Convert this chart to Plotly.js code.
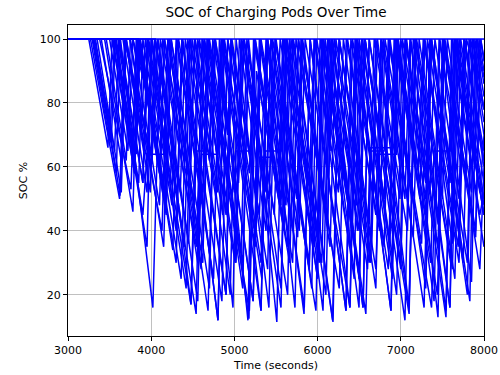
<!DOCTYPE html>
<html>
<head>
<meta charset="utf-8">
<script src="https://cdn.plot.ly/plotly-3.0.1.min.js"></script>
<style>html,body{margin:0;padding:0;background:#fff;}#chart{width:500px;height:375px;}</style>
</head>
<body>
<div id="chart"></div>
<script>
// Time (seconds) and SOC (%) vertices for each charging pod
const pod01Time = [3000,3270,3620,3680,4010,4080,4560,4640,5100,5170,5640,5700,6180,6260,6700,6790,7280,7350,7800,7860,8000];
const pod01Soc  = [100,100,50,100,62,100,18,100,30,95,20,100,12,100,28,100,16,100,30,100,78];
const pod02Time = [3000,3300,3580,3630,4020,4110,4543,4620,5180,5265,5665,5740,6260,6345,6745,6810,7370,7460,7727,7790,8000];
const pod02Soc  = [100,100,58,100,16,100,35,100,15,90,30,100,22,100,40,100,16,100,60,100,78];
const pod03Time = [3000,3320,3560,3610,3900,3960,4420,4490,4800,4860,5320,5400,5780,5850,6389,6470,6900,6960,7440,7530,7900,7960,8000];
const pod03Soc  = [100,100,65,100,55,100,22,100,52,100,15,100,40,100,16,100,32,100,20,100,38,100,94];
const pod04Time = [3000,3350,3640,3700,4130,4200,4683,4770,5225,5300,5596,5660,6065,6140,6546,6620,7099,7180,7591,7660,8000];
const pod04Soc  = [100,100,52,100,40,100,15,100,18,85,40,100,15,100,16,100,16,100,16,100,45];
const pod05Time = [3000,3380,3757,3820,4030,4080,4478,4560,5010,5080,5415,5490,5930,5990,6385,6450,6882,6960,7207,7280,7690,7760,8000];
const pod05Soc  = [100,100,53,100,70,100,17,100,30,100,50,100,22,100,35,100,15,100,60,100,35,100,65];
const pod06Time = [3000,3330,3625,3690,3950,4000,4300,4370,4803,4880,5330,5400,5837,5910,6341,6420,6850,6920,7207,7270,7700,7770,8000];
const pod06Soc  = [100,100,51,100,62,100,40,100,12,100,25,100,14,100,15,100,28,100,55,100,30,100,62];
const pod07Time = [3000,3460,3700,3750,4150,4220,4620,4690,5175,5250,5520,5590,6000,6070,6498,6570,7000,7060,7543,7620,7950,8000];
const pod07Soc  = [100,100,62,100,35,100,30,100,12.5,100,55,100,25,100,16,100,30,100,13,100,45,52];
const pod08Time = [3000,3500,3720,3780,4080,4140,4560,4640,4983,5020,5200,5250,5560,5620,6100,6170,6600,6640,6800,6850,7250,7320,7591,7660,7950,8000];
const pod08Soc  = [100,100,65,100,70,100,30,100,16,65,65,100,50,100,20,100,28,65,65,100,36,100,55,100,52,70];
const pod09Time = [3000,3540,3800,3850,4300,4370,4850,4920,5320,5390,5728,5800,6200,6260,6700,6770,7150,7220,7650,7720,8000];
const pod09Soc  = [100,100,58,100,30,100,18,100,30,100,16,100,30,100,22,100,38,100,25,100,55];
const pod10Time = [3000,3580,3850,3900,4360,4440,4900,4960,5300,5380,5840,5910,6341,6400,6800,6870,7300,7370,7830,7890,8000];
const pod10Soc  = [100,100,55,100,25,100,20,100,45,100,16,100,15,100,35,100,22,100,18,100,82];
const pod11Time = [3000,3620,3900,3950,4230,4300,4750,4820,5163,5230,5640,5710,6185,6260,6650,6720,7099,7170,7620,7700,8000];
const pod11Soc  = [100,100,55,100,55,100,25,100,12,100,35,100,11.5,100,35,100,16,100,28,100,50];
const pod12Time = [3000,3660,3950,4000,4400,4470,4700,4760,5225,5300,5700,5770,6065,6130,6546,6620,7000,7070,7447,7520,7900,7960,8000];
const pod12Soc  = [100,100,52,100,35,100,62,100,18,100,30,100,50,100,16,100,38,100,13,100,40,100,93];
const pod13Time = [3000,3700,3920,3970,4478,4540,4700,4740,4920,4960,5320,5370,5560,5600,6020,6090,6580,6630,6900,6940,7360,7400,7600,7640,7890,7940,8000];
const pod13Soc  = [100,100,65,100,17,65,65,100,70,100,15,65,65,100,30,100,14,66,66,100,30,65,65,100,60,100,90];
const pod14Time = [3000,3740,4000,4050,4450,4520,4950,5020,5415,5490,5900,5970,6389,6460,6882,6950,7300,7370,7800,7870,8000];
const pod14Soc  = [100,100,60,100,36,100,20,100,16,100,28,100,16,100,15,100,45,100,20,100,78];
const pod15Time = [3000,3780,4100,4160,4600,4670,5100,5170,5510,5580,5960,6030,6440,6500,6950,7020,7300,7360,7750,7820,8000];
const pod15Soc  = [100,100,48,100,28,100,22,100,11.5,100,35,100,25,100,20,100,55,100,30,100,70];
const pod16Time = [3000,3850,4180,4240,4700,4770,5050,5120,5560,5630,6050,6120,6500,6570,7000,7060,7447,7510,7950,8000];
const pod16Soc  = [100,100,45,100,22,100,55,100,22,100,30,100,40,100,28,100,35,100,28,60];
const pod17Time = [3000,3250,3480,3530,3800,3860,4260,4330,4620,4680,5080,5150,5480,5550,5990,6060,6420,6480,6900,6970,7400,7470,7850,7920,8000];
const pod17Soc  = [100,100,66,100,58,100,34,100,52,100,33,100,45,100,27,100,42,100,25,100,18,100,24,100,88];
const pod18Time = [3000,3290,3500,3560,3900,3950,4150,4200,4560,4610,4800,4850,5250,5300,5450,5500,5900,5960,6150,6200,6620,6680,6950,7000,7300,7350,7700,7760,8000];
const pod18Soc  = [100,100,68,100,45,64,64,100,40,64,64,100,35,63,63,100,30,100,65,100,30,64,64,100,50,100,40,100,62];
const pod19Time = [3000,3560,3950,4010,4540,4610,5020,5090,5560,5630,6000,6070,6500,6570,7050,7120,7543,7610,8000];
const pod19Soc  = [100,100,35,100,14,100,30,100,16,100,40,100,25,100,12,100,15,100,35];
const pod20Time = [3000,3400,3640,3690,3990,4040,4320,4380,4803,4870,5260,5320,5700,5770,6150,6220,6640,6700,7080,7150,7591,7650,8000];
const pod20Soc  = [100,100,62,100,52,100,55,100,12,100,38,100,40,100,35,100,30,100,40,100,16,100,45];
const pod21Time = [3000,8000];
const pod21Soc  = [100,100];
const pod22Time = [3000,3310,3520,3570,3780,3830,4100,4160,4400,4460,4780,4840,5050,5110,5380,5440,5750,5810,6100,6160,6470,6530,6800,6860,7130,7190,7500,7560,7850,7910,8000];
const pod22Soc  = [100,100,68,100,66,100,58,100,62,100,50,100,62,100,52,100,50,100,45,100,48,100,50,100,50,100,50,100,52,100,86];
const pod23Time = [3000,3440,3780,3840,4150,4200,4520,4580,4900,4960,5250,5310,5620,5680,6000,6050,6300,6360,6700,6760,7050,7110,7450,7500,7780,7840,8000];
const pod23Soc  = [100,100,46,100,50,100,48,100,45,100,52,100,48,100,40,100,58,100,45,100,50,100,42,100,55,100,74];
const pod24Time = [3000,3600,3820,3870,4180,4240,4470,4530,4860,4920,5180,5240,5560,5620,5900,5960,6250,6310,6620,6680,6990,7050,7350,7410,7700,7760,8000];
const pod24Soc  = [100,100,64,100,50,100,62,100,45,100,58,100,48,100,55,100,52,100,42,100,50,100,52,100,50,100,60];
const pod25Time = [3000,3690,3880,3930,4250,4310,4640,4700,5000,5060,5380,5440,5760,5820,6120,6180,6480,6540,6870,6930,7230,7290,7620,7680,8000];
const pod25Soc  = [100,100,70,100,48,100,45,100,52,100,40,100,38,100,42,100,40,100,36,100,50,100,36,100,48];
const pod26Time = [3000,4050,4350,4410,4900,4970,5400,5460,5980,6050,6500,6560,7100,7170,7600,7660,8000];
const pod26Soc  = [100,100,52,100,20,100,28,100,15,100,26,100,14,100,30,100,45];

const xTickVals = [3000,4000,5000,6000,7000,8000];
const yTickVals = [20,40,60,80,100];

const pods = [
  [pod01Time,pod01Soc],[pod02Time,pod02Soc],[pod03Time,pod03Soc],[pod04Time,pod04Soc],
  [pod05Time,pod05Soc],[pod06Time,pod06Soc],[pod07Time,pod07Soc],[pod08Time,pod08Soc],
  [pod09Time,pod09Soc],[pod10Time,pod10Soc],[pod11Time,pod11Soc],[pod12Time,pod12Soc],
  [pod13Time,pod13Soc],[pod14Time,pod14Soc],[pod15Time,pod15Soc],[pod16Time,pod16Soc],
  [pod17Time,pod17Soc],[pod18Time,pod18Soc],[pod19Time,pod19Soc],[pod20Time,pod20Soc],
  [pod21Time,pod21Soc],[pod22Time,pod22Soc],[pod23Time,pod23Soc],[pod24Time,pod24Soc],
  [pod25Time,pod25Soc],[pod26Time,pod26Soc]
];

const traces = pods.map((p, i) => ({
  x: p[0], y: p[1], type: 'scatter', mode: 'lines',
  line: {color: '#0000ff', width: 1.5},
  name: 'Pod ' + (i + 1), hoverinfo: 'skip'
}));

const font = {family: 'DejaVu Sans, sans-serif', size: 11, color: '#000'};
const layout = {
  width: 500, height: 375,
  margin: {l: 68, r: 16, t: 25, b: 39, pad: 0},
  paper_bgcolor: '#fff', plot_bgcolor: '#fff',
  showlegend: false,
  font: font,
  title: {text: 'SOC of Charging Pods Over Time', font: {family: 'DejaVu Sans, sans-serif', size: 13.5, color: '#000'},
          x: 0.552, xanchor: 'center', y: 0.967, yanchor: 'middle'},
  xaxis: {
    range: [3000, 8000], tickvals: xTickVals, ticktext: xTickVals.map(String),
    showgrid: true, gridcolor: '#b0b0b0', gridwidth: 0.8,
    showline: true, linecolor: '#000', linewidth: 1, mirror: true,
    ticks: 'outside', ticklen: 4, tickcolor: '#000', tickwidth: 1,
    zeroline: false, tickfont: font,
    title: {text: 'Time (seconds)', font: font, standoff: 5}
  },
  yaxis: {
    range: [7.1, 104.4], tickvals: yTickVals, ticktext: yTickVals.map(String),
    showgrid: true, gridcolor: '#b0b0b0', gridwidth: 0.8,
    showline: true, linecolor: '#000', linewidth: 1, mirror: true,
    ticks: 'outside', ticklen: 4, tickcolor: '#000', tickwidth: 1,
    zeroline: false, tickfont: font,
    title: {text: 'SOC %', font: font, standoff: 9}
  }
};
Plotly.newPlot('chart', traces, layout, {staticPlot: true, displayModeBar: false});
</script>
</body>
</html>
